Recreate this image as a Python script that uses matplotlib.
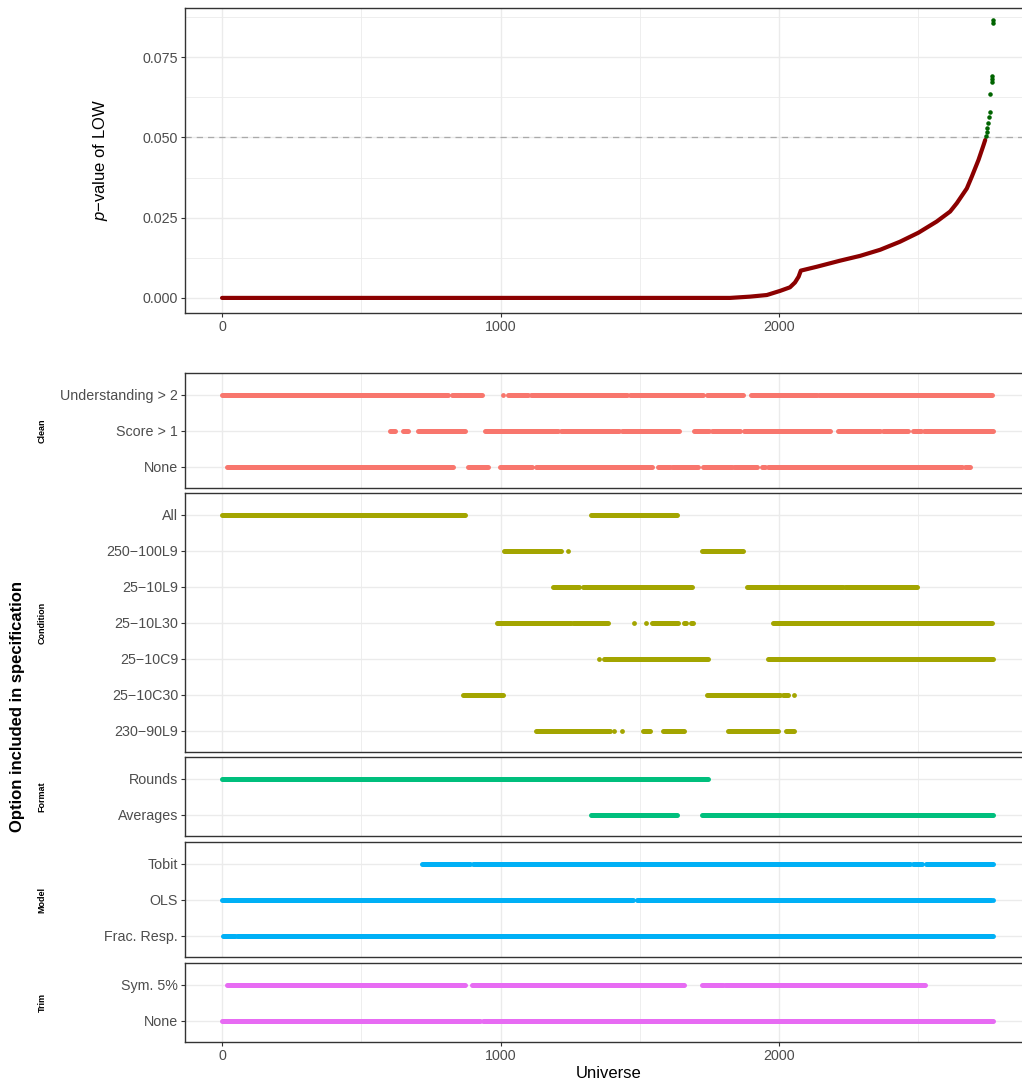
import matplotlib
matplotlib.use('Agg')
import matplotlib.pyplot as plt
from matplotlib.ticker import FixedLocator

plt.rcParams['font.family'] = ['Liberation Sans', 'DejaVu Sans']
plt.rcParams['mathtext.fontset'] = 'custom'
plt.rcParams['mathtext.rm'] = 'Liberation Sans'
plt.rcParams['mathtext.it'] = 'Liberation Sans:italic'

# p-value curve, sorted by universe
p_universe = [0, 1716, 1824, 1896, 1956, 2004, 2039, 2057, 2070, 2078, 2135, 2219,
              2291, 2363, 2434, 2500, 2566, 2614, 2638, 2674, 2692, 2716, 2734, 2740]
p_value = [0.0, 0.0, 0.0, 0.0004, 0.0009, 0.0022, 0.0033, 0.0048, 0.0066, 0.0085,
           0.0097, 0.0116, 0.0131, 0.0150, 0.0175, 0.0203, 0.0238, 0.0269, 0.0295,
           0.0341, 0.0378, 0.0430, 0.0476, 0.0492]
# universes where p > 0.05
ns_universe = [2742, 2745, 2748, 2751, 2754, 2756, 2759, 2763, 2765, 2766, 2768, 2769]
ns_value = [0.0505, 0.0518, 0.0530, 0.0545, 0.0565, 0.0578, 0.0635, 0.0672, 0.0682,
            0.0690, 0.0855, 0.0865]

# specification options: ranges of universes where each option is used
clean_labels = ['Understanding > 2', 'Score > 1', 'None']
clean_ranges = [
    [(0, 812), (826, 862), (866, 934), (1010, 1010), (1028, 1100), (1108, 1453),
     (1465, 1728), (1742, 1871), (1900, 2136), (2144, 2766)],
    [(603, 621), (650, 668), (704, 873), (944, 1207), (1217, 1425), (1436, 1641),
     (1695, 1749), (1759, 1860), (1874, 2183), (2212, 2298), (2302, 2363),
     (2373, 2463), (2481, 2510), (2521, 2769)],
    [(18, 830), (884, 955), (998, 1113), (1127, 1544), (1566, 1609), (1615, 1709),
     (1727, 1831), (1838, 1920), (1939, 1950), (1960, 2657), (2668, 2686)],
]

condition_labels = ['All', '250−100L9', '25−10L9', '25−10L30', '25−10C9', '25−10C30', '230−90L9']
condition_ranges = [
    [(0, 873), (1325, 1634)],
    [(1013, 1217), (1243, 1243), (1723, 1831), (1835, 1871)],
    [(1188, 1282), (1296, 1688), (1885, 2230), (2237, 2495)],
    [(987, 1253), (1260, 1386), (1479, 1479), (1522, 1522), (1544, 1637),
     (1659, 1665), (1685, 1691), (1978, 2765)],
    [(1354, 1354), (1372, 1745), (1960, 2769)],
    [(865, 1009), (1741, 2004), (2014, 2032), (2054, 2054)],
    [(1127, 1393), (1408, 1408), (1436, 1436), (1512, 1537), (1584, 1659),
     (1817, 1996), (2025, 2054)],
]

format_labels = ['Rounds', 'Averages']
format_ranges = [
    [(0, 1745)],
    [(1325, 1634), (1723, 2769)],
]

model_labels = ['Tobit', 'OLS', 'Frac. Resp.']
model_ranges = [
    [(717, 891), (902, 2470), (2481, 2513), (2527, 2769)],
    [(0, 1476), (1490, 2762), (2768, 2768)],
    [(4, 47), (54, 2766), (2769, 2769)],
]

trim_labels = ['Sym. 5%', 'None']
trim_ranges = [
    [(18, 873), (897, 1659), (1723, 1799), (1806, 2524)],
    [(0, 926), (937, 2769)],
]

groups = [
    ('Clean', clean_labels, clean_ranges, '#F8766D'),
    ('Condition', condition_labels, condition_ranges, '#A3A500'),
    ('Format', format_labels, format_ranges, '#00BF7D'),
    ('Model', model_labels, model_ranges, '#00B0F6'),
    ('Trim', trim_labels, trim_ranges, '#E76BF3'),
]

W, H = 1022, 1086
fig = plt.figure(figsize=(W / 100, H / 100), dpi=100)


def px_axes(left, top, right, bottom):
    return fig.add_axes([left / W, 1 - bottom / H, (right - left) / W, (bottom - top) / H])


def style_axes(ax, show_xlabels):
    ax.set_xlim(-133, 2908)
    ax.xaxis.set_major_locator(FixedLocator([0, 1000, 2000]))
    ax.xaxis.set_minor_locator(FixedLocator([500, 1500, 2500]))
    ax.grid(True, which='major', color='#EBEBEB', linewidth=1.0)
    ax.grid(True, which='minor', axis='x', color='#EBEBEB', linewidth=0.6)
    ax.set_axisbelow(True)
    for side, sp in ax.spines.items():
        sp.set_color('#333333')
        sp.set_linewidth(1.0)
    ax.tick_params(which='major', length=3, width=0.8, color='#333333',
                   labelcolor='#4D4D4D', labelsize=10.3, pad=2)
    ax.tick_params(which='minor', length=0)
    if not show_xlabels:
        ax.tick_params(axis='x', which='major', length=0, labelbottom=False)


# top panel: p-value curve
ax0 = px_axes(185, 8, 1032, 313)
style_axes(ax0, True)
ax0.set_ylim(-0.0047, 0.0903)
ax0.yaxis.set_major_locator(FixedLocator([0.0, 0.025, 0.05, 0.075]))
ax0.yaxis.set_minor_locator(FixedLocator([0.0125, 0.0375, 0.0625, 0.0875]))
ax0.grid(True, which='minor', axis='y', color='#EBEBEB', linewidth=0.6)
ax0.set_yticklabels(['0.000', '0.025', '0.050', '0.075'])
ax0.axhline(0.05, color='#AAAAAA', linestyle=(0, (5, 4)), linewidth=0.9)
ax0.plot(p_universe, p_value, color='#8B0000', linewidth=3, solid_capstyle='round')
ax0.scatter(ns_universe, ns_value, color='#006400', s=5, zorder=3)
fig.text(100 / W, 1 - 160 / H, r'$\it{p}$−value of LOW', rotation=90,
         ha='center', va='center', fontsize=12)

# indicator panels
panel_tops = [373, 493, 757, 842, 963]
row_h = 36
for (name, labels, ranges, color), top in zip(groups, panel_tops):
    n = len(labels)
    bottom = top + (n + 0.2) * row_h
    ax = px_axes(185, top, 1032, bottom)
    style_axes(ax, name == 'Trim')
    ys = [n - i for i in range(n)]
    ax.set_ylim(0.4, n + 0.6)
    ax.yaxis.set_major_locator(FixedLocator(ys))
    ax.set_yticklabels(labels)
    for y, segs in zip(ys, ranges):
        runs = [s for s in segs if s[1] > s[0]]
        dots = [s[0] for s in segs if s[1] == s[0]]
        ax.hlines([y] * len(runs), [s[0] for s in runs], [s[1] for s in runs],
                  colors=color, linewidth=3.6, capstyle='round', zorder=3)
        if dots:
            ax.scatter(dots, [y] * len(dots), color=color, s=12, linewidths=0, zorder=3)
    fig.text(42 / W, 1 - (top + bottom) / 2 / H, name, rotation=90, ha='center',
             va='center', fontsize=6.5, fontweight='bold')
    if name == 'Trim':
        ax.set_xlabel('Universe', fontsize=12, labelpad=2)

fig.text(18 / W, 1 - 707 / H, 'Option included in specification', rotation=90,
         ha='center', va='center', fontsize=12, fontweight='bold')

fig.savefig('out.png', dpi=100)
